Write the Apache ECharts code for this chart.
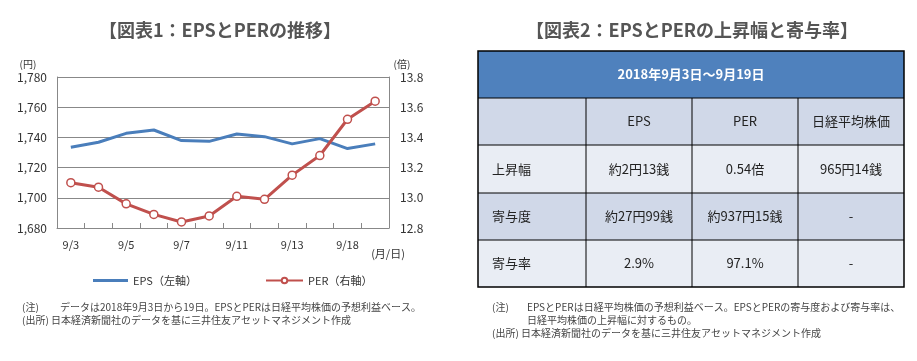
<!DOCTYPE html>
<html><head><meta charset="utf-8">
<script src="https://cdn.jsdelivr.net/npm/echarts@6/dist/echarts.min.js"></script>
<style>html,body{margin:0;padding:0;background:#fff}#c{width:917px;height:361px}</style>
</head><body><div id="c"></div>
<script>
const categories = ['9/3','9/4','9/5','9/6','9/7','9/10','9/11','9/12','9/13','9/14','9/18','9/19'];
const epsValues = [1733.5,1736.8,1742.7,1744.9,1737.9,1737.4,1742.3,1740.5,1735.7,1739.2,1732.6,1735.7];
const perValues = [13.10,13.07,12.96,12.89,12.84,12.88,13.01,12.99,13.15,13.28,13.52,13.64];
const tablePeriod = '2018年9月3日～9月19日';
const tableColumns = ['', 'EPS', 'PER', '日経平均株価'];
const tableRowLabels = ['上昇幅', '寄与度', '寄与率'];
const tableValues = [
  ['約2円13銭', '0.54倍', '965円14銭'],
  ['約27円99銭', '約937円15銭', '-'],
  ['2.9%', '97.1%', '-']
];

const FONT = '"Noto Sans CJK JP", "Noto Sans", sans-serif';
const chart = echarts.init(document.getElementById('c'));

// table layout
const colX = [478, 586, 692, 798, 904];
const rowY = [51, 98, 145, 193, 240, 287];
const rowFill = ['#4f81bd', '#d0d8e8', '#e9edf4', '#d0d8e8', '#e9edf4'];
const g = [];
for (let r = 0; r < 5; r++) {
  g.push({type:'rect', shape:{x:colX[0], y:rowY[r], width:colX[4]-colX[0], height:rowY[r+1]-rowY[r]}, style:{fill:rowFill[r]}, silent:true});
}
for (let r = 1; r < 5; r++) {
  g.push({type:'line', shape:{x1:colX[0], y1:rowY[r], x2:colX[4], y2:rowY[r]}, style:{stroke:'#000', lineWidth:1}, silent:true});
}
for (let c = 1; c < 4; c++) {
  g.push({type:'line', shape:{x1:colX[c], y1:rowY[1], x2:colX[c], y2:rowY[5]}, style:{stroke:'#000', lineWidth:1}, silent:true});
}
g.push({type:'rect', shape:{x:colX[0], y:rowY[0], width:colX[4]-colX[0], height:rowY[5]-rowY[0]}, style:{fill:'none', stroke:'#000', lineWidth:1.5}, silent:true});
g.push({type:'text', style:{text:tablePeriod, x:(colX[0]+colX[4])/2, y:(rowY[0]+rowY[1])/2, align:'center', verticalAlign:'middle', fill:'#fff', font:'bold 13px '+FONT}});
for (let c = 1; c < 4; c++) {
  g.push({type:'text', style:{text:tableColumns[c], x:(colX[c]+colX[c+1])/2, y:(rowY[1]+rowY[2])/2, align:'center', verticalAlign:'middle', fill:'#222', font:'13px '+FONT}});
}
for (let r = 0; r < 3; r++) {
  g.push({type:'text', style:{text:tableRowLabels[r], x:492, y:(rowY[r+2]+rowY[r+3])/2, align:'left', verticalAlign:'middle', fill:'#222', font:'13px '+FONT}});
  for (let c = 0; c < 3; c++) {
    g.push({type:'text', style:{text:tableValues[r][c], x:(colX[c+1]+colX[c+2])/2, y:(rowY[r+2]+rowY[r+3])/2, align:'center', verticalAlign:'middle', fill:'#222', font:'13px '+FONT}});
  }
}
g.push({type:'text', style:{text:'【図表1：EPSとPERの推移】', x:220, y:30, align:'center', verticalAlign:'middle', fill:'#555', font:'bold 18px '+FONT}});
g.push({type:'text', style:{text:'【図表2：EPSとPERの上昇幅と寄与率】', x:692, y:30, align:'center', verticalAlign:'middle', fill:'#555', font:'bold 18px '+FONT}});
g.push({type:'text', style:{text:'(円)', x:28, y:64, align:'center', verticalAlign:'middle', fill:'#333', font:'10px '+FONT}});
g.push({type:'text', style:{text:'(倍)', x:402, y:64, align:'center', verticalAlign:'middle', fill:'#333', font:'10px '+FONT}});
g.push({type:'text', style:{text:'(月/日)', x:388, y:254, align:'center', verticalAlign:'middle', fill:'#333', font:'11px '+FONT}});
const noteFont = '10px ' + FONT;
g.push({type:'text', style:{text:'(注)', x:22, y:307, verticalAlign:'middle', fill:'#444', font:noteFont}});
g.push({type:'text', style:{text:'データは2018年9月3日から19日。EPSとPERは日経平均株価の予想利益ベース。', x:60, y:307, verticalAlign:'middle', fill:'#444', font:noteFont}});
g.push({type:'text', style:{text:'(出所) 日本経済新聞社のデータを基に三井住友アセットマネジメント作成', x:22, y:320, verticalAlign:'middle', fill:'#444', font:noteFont}});
g.push({type:'text', style:{text:'(注)', x:492, y:307, verticalAlign:'middle', fill:'#444', font:noteFont}});
g.push({type:'text', style:{text:'EPSとPERは日経平均株価の予想利益ベース。EPSとPERの寄与度および寄与率は、', x:527, y:307, verticalAlign:'middle', fill:'#444', font:noteFont}});
g.push({type:'text', style:{text:'日経平均株価の上昇幅に対するもの。', x:527, y:320, verticalAlign:'middle', fill:'#444', font:noteFont}});
g.push({type:'text', style:{text:'(出所) 日本経済新聞社のデータを基に三井住友アセットマネジメント作成', x:492, y:333, verticalAlign:'middle', fill:'#444', font:noteFont}});

const axisLineStyle = {color:'#888', width:1};
chart.setOption({
  animation:false,
  textStyle:{fontFamily:FONT},
  grid:{left:57, top:77, width:332, height:151},
  legend:[
    {data:['EPS（左軸）'], left:88, top:270, itemWidth:35, itemHeight:10, textStyle:{fontSize:11, color:'#333'}, icon:'path://M0,3.5L35,3.5L35,6.5L0,6.5Z'},
    {data:['PER（右軸）'], left:260, top:270, itemWidth:37, itemHeight:7, textStyle:{fontSize:11, color:'#333'}}
  ],
  xAxis:{type:'category', data:categories, boundaryGap:true,
    axisLine:{lineStyle:axisLineStyle},
    axisTick:{show:true, inside:true, length:5, interval:0, lineStyle:axisLineStyle},
    axisLabel:{interval:1, color:'#333', fontSize:11, margin:11}},
  yAxis:[
    {type:'value', min:1680, max:1780, interval:20, position:'left',
      axisLine:{show:true, lineStyle:axisLineStyle}, axisTick:{show:false},
      splitLine:{show:true, lineStyle:{color:'#888', width:1}},
      axisLabel:{color:'#333', fontSize:12, margin:10, formatter:v=>v.toLocaleString('en-US')}},
    {type:'value', min:12.8, max:13.8, interval:0.2, position:'right',
      axisLine:{show:true, lineStyle:axisLineStyle}, axisTick:{show:false},
      splitLine:{show:false},
      axisLabel:{color:'#333', fontSize:12, margin:11, formatter:v=>v.toFixed(1)}}
  ],
  series:[
    {name:'EPS（左軸）', type:'line', yAxisIndex:0, data:epsValues, symbol:'none',
      lineStyle:{color:'#4a7ebb', width:3}, itemStyle:{color:'#4a7ebb'}},
    {name:'PER（右軸）', type:'line', yAxisIndex:1, data:perValues, symbol:'circle', symbolSize:8,
      lineStyle:{color:'#c0504d', width:3}, itemStyle:{color:'#fff', borderColor:'#c0504d', borderWidth:1.5}}
  ],
  graphic:g
});
</script></body></html>
